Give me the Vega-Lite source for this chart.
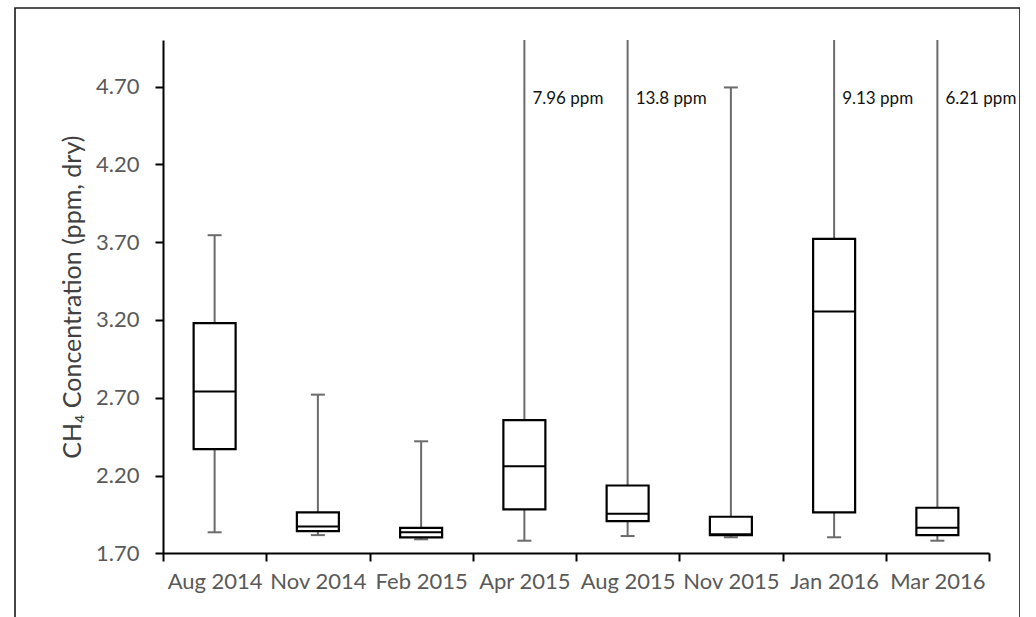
{
  "$schema": "https://vega.github.io/schema/vega-lite/v6.json",
  "autosize": {"type": "none"},
  "padding": {"left": 15, "top": 8, "right": 0, "bottom": 0},
  "width": 1005,
  "height": 620,
  "background": "white",
  "config": {
    "view": {"stroke": "#1a1a1a", "strokeWidth": 1.6},
    "font": "Lato"
  },
  "data": {
    "values": [
      {"month": "Aug 2014", "lower": 1.835, "q1": 2.37, "median": 2.74, "q3": 3.18, "upper": 3.745, "label": ""},
      {"month": "Nov 2014", "lower": 1.817, "q1": 1.843, "median": 1.873, "q3": 1.963, "upper": 2.72, "label": ""},
      {"month": "Feb 2015", "lower": 1.79, "q1": 1.803, "median": 1.835, "q3": 1.864, "upper": 2.42, "label": ""},
      {"month": "Apr 2015", "lower": 1.781, "q1": 1.982, "median": 2.26, "q3": 2.556, "upper": 7.96, "label": "7.96 ppm"},
      {"month": "Aug 2015", "lower": 1.811, "q1": 1.907, "median": 1.954, "q3": 2.136, "upper": 13.8, "label": "13.8 ppm"},
      {"month": "Nov 2015", "lower": 1.803, "q1": 1.816, "median": 1.822, "q3": 1.935, "upper": 4.695, "label": ""},
      {"month": "Jan 2016", "lower": 1.803, "q1": 1.963, "median": 3.255, "q3": 3.722, "upper": 9.13, "label": "9.13 ppm"},
      {"month": "Mar 2016", "lower": 1.781, "q1": 1.817, "median": 1.864, "q3": 1.993, "upper": 6.21, "label": "6.21 ppm"}
    ]
  },
  "encoding": {
    "x": {
      "field": "month",
      "type": "nominal",
      "sort": null,
      "scale": {"range": [148, 974], "paddingInner": 0, "paddingOuter": 0},
      "axis": {
        "title": null,
        "orient": "bottom",
        "offset": -75,
        "tickBand": "extent",
        "domainColor": "#000000",
        "domainWidth": 2,
        "tickColor": "#000000",
        "tickWidth": 2,
        "tickSize": 8,
        "labelAngle": 0,
        "labelFont": "Lato",
        "labelFontSize": 22,
        "labelColor": "#595959",
        "labelPadding": 10,
        "grid": false
      }
    }
  },
  "layer": [
    {
      "mark": {"type": "rule", "color": "#6b6b6b", "strokeWidth": 2},
      "encoding": {
        "y": {
          "field": "lower",
          "type": "quantitative",
          "scale": {"domain": [1.7, 5.0], "range": [545.3, 32], "clamp": true, "nice": false, "zero": false},
          "axis": {
            "values": [1.7, 2.2, 2.7, 3.2, 3.7, 4.2, 4.7],
            "format": ".2f",
            "offset": -148,
            "grid": false,
            "title": "CH₄ Concentration (ppm, dry)",
            "titleFont": "Lato",
            "titleFontSize": 25,
            "titleFontWeight": "normal",
            "titleColor": "#404040",
            "titlePadding": 10,
            "labelFont": "Lato",
            "labelFontSize": 22,
            "labelColor": "#595959",
            "labelPadding": 16,
            "tickSize": 8,
            "tickWidth": 2,
            "tickColor": "#000000",
            "domainColor": "#000000",
            "domainWidth": 2
          }
        },
        "y2": {"field": "q1"}
      }
    },
    {
      "mark": {"type": "rule", "color": "#6b6b6b", "strokeWidth": 2},
      "encoding": {
        "y": {"field": "q3", "type": "quantitative"},
        "y2": {"field": "upper"}
      }
    },
    {
      "mark": {"type": "tick", "color": "#6b6b6b", "size": 14, "thickness": 2, "opacity": 1},
      "encoding": {
        "y": {"field": "lower", "type": "quantitative"}
      }
    },
    {
      "transform": [{"filter": "datum.upper <= 5"}],
      "mark": {"type": "tick", "color": "#6b6b6b", "size": 14, "thickness": 2, "opacity": 1},
      "encoding": {
        "y": {"field": "upper", "type": "quantitative"}
      }
    },
    {
      "mark": {"type": "bar", "fill": "white", "stroke": "#000000", "strokeWidth": 2.2, "size": 42},
      "encoding": {
        "y": {"field": "q1", "type": "quantitative"},
        "y2": {"field": "q3"}
      }
    },
    {
      "mark": {"type": "tick", "color": "#000000", "size": 42, "thickness": 2, "opacity": 1},
      "encoding": {
        "y": {"field": "median", "type": "quantitative"}
      }
    },
    {
      "transform": [{"filter": "datum.label != ''"}],
      "mark": {"type": "text", "align": "left", "baseline": "middle", "dx": 8, "fontSize": 17, "font": "Lato", "color": "#111111"},
      "encoding": {
        "y": {"datum": 4.62, "type": "quantitative"},
        "text": {"field": "label"}
      }
    }
  ]
}
